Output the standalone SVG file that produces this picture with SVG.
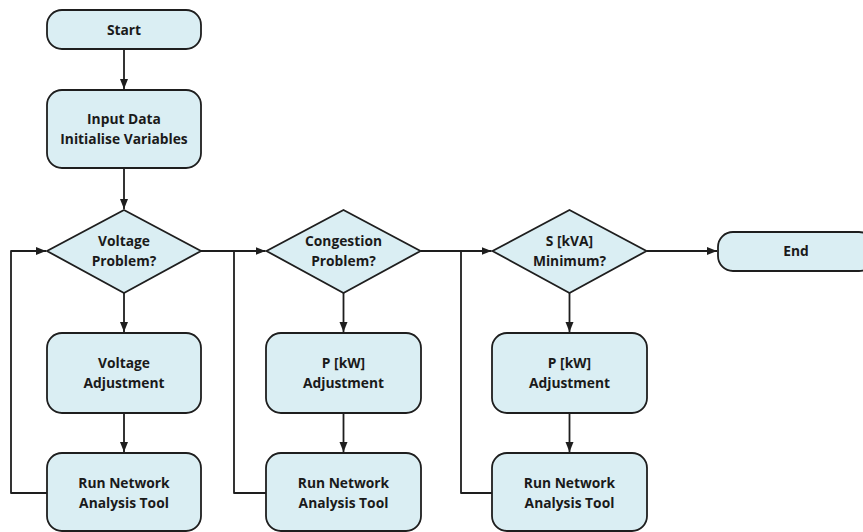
<svg xmlns="http://www.w3.org/2000/svg" width="863" height="532" viewBox="0 0 863 532">
<defs>
<style>
.box{fill:#DAEEF3;stroke:#1e1e1e;stroke-width:1.8}
.t{font-family:"Open Sans","Liberation Sans",sans-serif;font-weight:bold;font-size:13.8px;fill:#1a1a1a;text-anchor:middle}
.c{fill:none;stroke:#1e1e1e;stroke-width:1.8;stroke-linejoin:round}
</style>
<marker id="ah" markerUnits="userSpaceOnUse" markerWidth="10" markerHeight="10" viewBox="0 0 10 10" refX="10" refY="5" orient="auto">
<path d="M0,1 L10,5 L0,9 Z" fill="#1e1e1e"/>
</marker>
</defs>
<rect width="863" height="532" fill="#ffffff"/>
<g id="connectors">
<path class="c" d="M124,49 V89" marker-end="url(#ah)"/>
<path class="c" d="M124,168 V209" marker-end="url(#ah)"/>
<path class="c" d="M124,293 V332" marker-end="url(#ah)"/>
<path class="c" d="M124,413 V452" marker-end="url(#ah)"/>
<path class="c" d="M47,493 H11 V251 H46" marker-end="url(#ah)"/>
<path class="c" d="M201,251 H265.5" marker-end="url(#ah)"/>
<path class="c" d="M343.5,293 V332" marker-end="url(#ah)"/>
<path class="c" d="M343.5,413 V452" marker-end="url(#ah)"/>
<path class="c" d="M266,493 H234 V251"/>
<path class="c" d="M420.5,251 H491.5" marker-end="url(#ah)"/>
<path class="c" d="M569.5,293 V332" marker-end="url(#ah)"/>
<path class="c" d="M569.5,413 V452" marker-end="url(#ah)"/>
<path class="c" d="M492,493 H461 V251"/>
<path class="c" d="M646.5,251 H717" marker-end="url(#ah)"/>
</g>
<g id="start">
<rect class="box" x="47" y="10" width="154" height="39" rx="15"/>
<text class="t" x="124" y="35">Start</text>
</g>
<g id="input">
<rect class="box" x="47" y="90" width="154" height="78" rx="15"/>
<text class="t" x="124" y="124">Input Data</text>
<text class="t" x="124" y="144">Initialise Variables</text>
</g>
<g id="voltage-problem">
<polygon class="box" points="124,210 201,251 124,293 47,251"/>
<text class="t" x="124" y="246">Voltage</text>
<text class="t" x="124" y="266">Problem?</text>
</g>
<g id="voltage-adjustment">
<rect class="box" x="47" y="333" width="154" height="80" rx="15"/>
<text class="t" x="124" y="368">Voltage</text>
<text class="t" x="124" y="388">Adjustment</text>
</g>
<g id="run1">
<rect class="box" x="47" y="453" width="154" height="78" rx="15"/>
<text class="t" x="124" y="488">Run Network</text>
<text class="t" x="124" y="508">Analysis Tool</text>
</g>
<g id="congestion-problem">
<polygon class="box" points="343.5,210 420.5,251 343.5,293 266.5,251"/>
<text class="t" x="343.5" y="246">Congestion</text>
<text class="t" x="343.5" y="266">Problem?</text>
</g>
<g id="p-adjustment-1">
<rect class="box" x="266" y="333" width="155" height="80" rx="15"/>
<text class="t" x="343.5" y="368">P [kW]</text>
<text class="t" x="343.5" y="388">Adjustment</text>
</g>
<g id="run2">
<rect class="box" x="266" y="453" width="155" height="78" rx="15"/>
<text class="t" x="343.5" y="488">Run Network</text>
<text class="t" x="343.5" y="508">Analysis Tool</text>
</g>
<g id="s-minimum">
<polygon class="box" points="569.5,210 646.5,251 569.5,293 492.5,251"/>
<text class="t" x="569.5" y="246">S [kVA]</text>
<text class="t" x="569.5" y="266">Minimum?</text>
</g>
<g id="p-adjustment-2">
<rect class="box" x="492" y="333" width="155" height="80" rx="15"/>
<text class="t" x="569.5" y="368">P [kW]</text>
<text class="t" x="569.5" y="388">Adjustment</text>
</g>
<g id="run3">
<rect class="box" x="492" y="453" width="155" height="78" rx="15"/>
<text class="t" x="569.5" y="488">Run Network</text>
<text class="t" x="569.5" y="508">Analysis Tool</text>
</g>
<g id="end">
<rect class="box" x="718" y="232" width="156" height="39" rx="15"/>
<text class="t" x="796" y="256">End</text>
</g>
</svg>
